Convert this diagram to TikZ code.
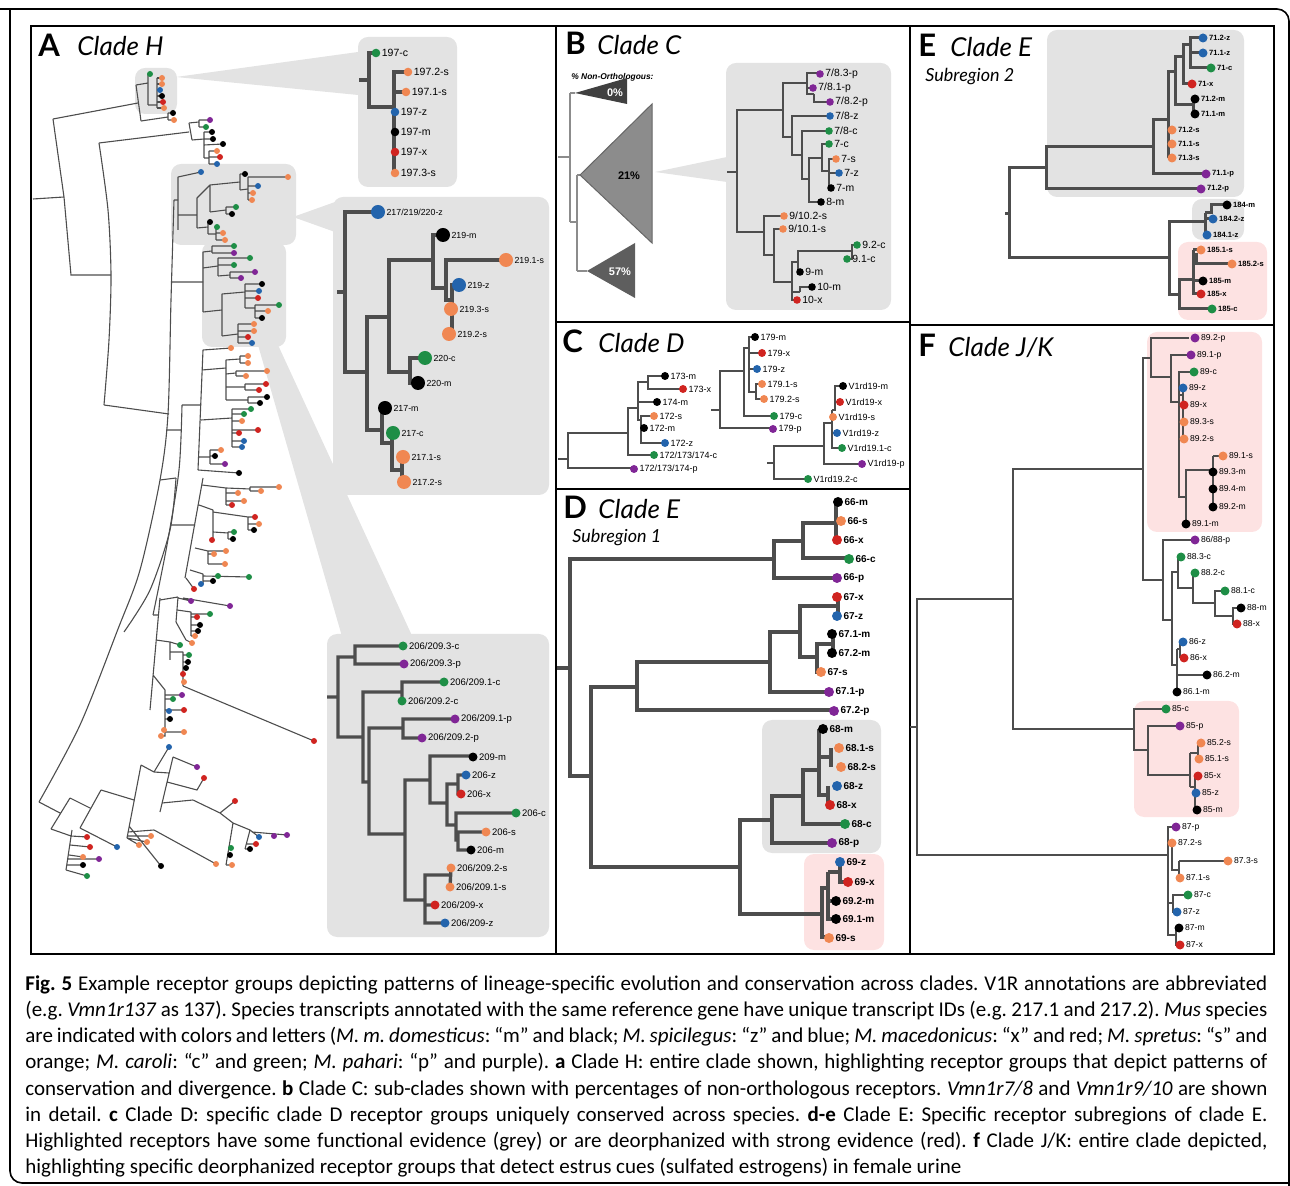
\documentclass[tikz,border=0pt]{standalone}
\usepackage{fontspec}
\setmainfont{Liberation Sans}
\newfontfamily\titlefont{Lato}
\newfontfamily\capfont{Carlito}
\definecolor{spm}{RGB}{0,0,0}
\definecolor{spz}{RGB}{35,100,172}
\definecolor{spx}{RGB}{208,36,32}
\definecolor{sps}{RGB}{240,135,82}
\definecolor{spc}{RGB}{30,142,70}
\definecolor{spp}{RGB}{128,38,150}
\definecolor{branch}{RGB}{77,77,77}
\definecolor{boxgrey}{RGB}{227,227,227}
\definecolor{boxpink}{RGB}{253,226,226}
\definecolor{tri0}{RGB}{64,64,64}
\definecolor{tri21}{RGB}{140,140,140}
\definecolor{tri57}{RGB}{94,94,94}
\newcount\tipno
\def\tr{3}
\def\leafdot[#1](#2)#3{\global\advance\tipno by 1\relax
  \fill[#1] (#2) circle (\tr) node[leaflab] (tip\the\tipno) {#3};}

\begin{document}
\begin{tikzpicture}[x=0.5pt, y=-0.5pt,
    br/.style={draw=branch, line width=#1}, br/.default=0.55pt,
    leaflab/.style={anchor=west, inner sep=0pt, text=black, xshift={(\tr+1.2)*0.5pt}},
    greybox/.style={fill=boxgrey, rounded corners=5pt},
    pinkbox/.style={fill=boxpink, rounded corners=5pt},
    panelttl/.style={anchor=base west, inner sep=0pt, font=\titlefont\bfseries\fontsize{15.5}{16}\selectfont},
    cladettl/.style={anchor=base west, inner sep=0pt, font=\titlefont\itshape\fontsize{13}{13}\selectfont},
    subttl/.style={anchor=base west, inner sep=0pt, font=\titlefont\itshape\fontsize{9}{9}\selectfont},
    trilab/.style={inner sep=0pt, font=\bfseries\fontsize{5.5}{6}\selectfont},
    capline/.style={anchor=base west, inner sep=0pt, font=\capfont\fontsize{10.5}{12}\selectfont\frenchspacing},
    panelframe/.style={draw=black, line width=1.2pt}]
\useasboundingbox (0,0) rectangle (1290,1186);

%%%%% FRAMES %%%%%
\draw[rounded corners=6pt, line width=0.8pt] (0,9) -- (1289,9) -- (1289,1190);
\draw[rounded corners=6pt, line width=0.8pt] (10,9) -- (10,1183) -- (1290,1183);

%%%%% BOXES AND WEDGES %%%%%
\fill[boxgrey] (176,77) -- (358,52) -- (358,95) -- cycle;
\fill[boxgrey] (293,217) -- (335,202) -- (335,232) -- cycle;
\fill[boxgrey] (258,345) -- (278,345) -- (414,640) -- (343,640) -- cycle;
\fill[boxgrey] (655,172) -- (727,157) -- (727,182) -- cycle;
\fill[greybox] (135,68) rectangle (177,114);
\fill[greybox] (171,164) rectangle (296,245);
\fill[greybox] (202,242) rectangle (286,347);
\fill[greybox] (358,37) rectangle (457,187);
\fill[greybox] (333,197) rectangle (549,495);
\fill[greybox] (327,634) rectangle (549,937);
\fill[greybox] (726,63) rectangle (891,310);
\fill[greybox] (762,720) rectangle (881,853);
\fill[pinkbox] (804,854) rectangle (884,950);
\fill[greybox] (1047,30) rectangle (1244,197);
\fill[greybox] (1192,199) rectangle (1244,240);
\fill[pinkbox] (1178,242) rectangle (1267,320);
\fill[pinkbox] (1147,332) rectangle (1262,532);
\fill[pinkbox] (1134,701) rectangle (1239,817);

\draw[panelframe] (31,26) rectangle (1274,954) (556,26) -- (556,954) (910,26) -- (910,954)
  (556,322) -- (910,322) (556,489) -- (910,489) (910,325) -- (1274,325);

%%%%% A: CLADE H %%%%%
\node[panelttl] (lblA) at (38,57) {A};
\node[cladettl] (ttlA) at (77,56) {Clade H};

% backbone
\draw[br] (33,199) -- (64,197) (53,119) -- (64,197) -- (71,275) -- (111,275) (53,119) -- (138,103)
  (104,405) -- (169,414) (166,430) -- (181,430) (174,200) -- (178,200) (172,282) -- (203,282)
  (182,405) -- (201,405) (171,525) -- (195,525) (153,615) -- (158,615) (160,480) -- (176,478);
\draw[br] plot[smooth] coordinates {(99,143) (108,210) (111,275) (109,340) (104,405)};
\draw[br] plot[smooth] coordinates {(174,200) (171,300) (168,414) (160,480) (140,570) (118,629) (80,725) (39,802)};
\draw[br] plot[smooth] coordinates {(182,405) (179,470) (167,545) (153,615)};
\draw[br] plot[smooth] coordinates {(176,478) (170,530) (150,590) (124,632)};
% top groups
\draw[br] (136,85) -- (141,121) (136,85) -- (148,83) (148,74) -- (148,105) (148,74) -- (150,74)
  (148,105) -- (157,105) (157,78) -- (157,108)
  (141,121) -- (168,117) (168,113) -- (168,120) (168,113) -- (173,113) (168,120) -- (174,120)
  (99,143) -- (189,132) (189,123) -- (192,140) (189,123) -- (199,122)
  (199,120) -- (199,127) (199,120) -- (210,120) (199,127) -- (206,127)
  (192,140) -- (204,139) (204,132) -- (204,158) (204,132) -- (212,132) (204,139) -- (213,139) (204,145) -- (223,144)
  (204,158) -- (209,158) (209,151) -- (209,164) (209,151) -- (217,151) (209,157) -- (220,157) (209,164) -- (217,164);
\foreach \y/\x in {78/162,84/162,90/160,96/162,102/163,108/164} \draw[br] (157,\y) -- (\x,\y);
% grey group 2
\draw[br] (178,177) -- (178,230) (178,177) -- (201,172) (178,215) -- (197,215) (197,198) -- (197,228)
  (197,198) -- (210,185) (210,185) -- (210,212) (210,185) -- (240,182) (240,174) -- (240,190) (240,174) -- (245,174)
  (240,190) -- (248,189) (248,177) -- (248,200) (248,177) -- (288,177) (248,186) -- (258,186) (248,193) -- (253,193) (248,200) -- (252,200)
  (210,212) -- (226,210) (226,207) -- (226,214) (226,207) -- (236,207) (226,214) -- (232,214)
  (197,228) -- (208,227) (208,222) -- (208,234) (208,222) -- (210,222) (208,234) -- (216,234)
  (216,227) -- (216,240) (216,233) -- (223,233) (216,240) -- (225,240);
% grey group 3
\draw[br] (203,252) -- (203,312) (203,252) -- (212,251) (212,246) -- (212,253) (212,246) -- (234,246) (212,253) -- (234,253)
  (203,268) -- (218,266) (218,258) -- (218,276) (218,258) -- (250,258) (218,265) -- (234,265)
  (218,276) -- (230,275) (230,272) -- (230,278) (230,272) -- (255,272) (230,278) -- (241,278)
  (203,312) -- (222,310) (222,294) -- (222,336) (222,294) -- (245,292) (245,284) -- (245,308)
  (245,284) -- (262,284) (245,291) -- (259,291) (245,298) -- (258,298)
  (245,308) -- (255,308) (255,305) -- (255,318) (255,305) -- (279,305) (255,311) -- (268,311) (255,318) -- (262,318)
  (222,336) -- (238,334) (238,324) -- (238,343) (238,324) -- (254,324) (238,331) -- (254,331) (238,337) -- (248,337) (238,343) -- (252,343);
% middle groups
\draw[br] (203,350) -- (198,470) (203,350) -- (231,348) (202,370) -- (226,368) (226,360) -- (226,400)
  (226,360) -- (240,359) (240,356) -- (240,363) (240,356) -- (248,356) (240,363) -- (248,363)
  (226,374) -- (236,373) (236,371) -- (236,376) (236,371) -- (267,371) (236,376) -- (246,376)
  (226,387) -- (245,387) (245,384) -- (245,390) (245,384) -- (266,384) (245,390) -- (259,390)
  (226,400) -- (248,400) (248,397) -- (248,403) (248,397) -- (267,397) (248,403) -- (260,403)
  (201,420) -- (232,418) (232,409) -- (232,447) (232,409) -- (251,409) (232,414) -- (244,414) (232,421) -- (242,421)
  (232,430) -- (258,430) (232,433) -- (239,433) (232,441) -- (244,441) (232,447) -- (242,447)
  (199,457) -- (210,457) (210,450) -- (210,464) (210,450) -- (221,450) (210,456) -- (215,456) (210,464) -- (225,464)
  (198,470) -- (239,473);
\draw[br] (203,478) -- (185,578) (202,485) -- (226,488) (226,488) -- (226,505)
  (226,488) -- (250,489) (250,487) -- (250,491) (250,487) -- (279,487) (250,491) -- (261,491)
  (226,493) -- (238,493) (226,501) -- (244,501) (226,505) -- (232,505)
  (199,505) -- (213,510) (213,510) -- (213,540) (213,512) -- (248,517) (248,517) -- (248,530)
  (248,517) -- (255,517) (248,524) -- (259,524) (248,530) -- (254,530)
  (213,532) -- (228,533) (228,532) -- (228,539) (228,532) -- (234,532) (228,539) -- (233,539)
  (195,548) -- (208,551) (208,551) -- (208,564) (208,551) -- (226,551) (208,554) -- (214,554) (208,564) -- (225,564)
  (190,570) -- (203,574) (203,574) -- (203,584) (203,576) -- (249,577) (203,581) -- (213,581) (186,578) -- (194,589);
\draw[br] (160,598) -- (150,710) (160,600) -- (178,597) (178,597) -- (176,622) (178,598) -- (191,601) (183,598) -- (230,606)
  (177,610) -- (191,612) (191,612) -- (191,636) (191,614) -- (210,614) (191,617) -- (197,617)
  (191,625) -- (200,625) (191,631) -- (198,631) (191,636) -- (195,636) (176,622) -- (186,640) -- (192,643)
  (156,640) -- (170,642) (170,642) -- (180,645) (170,642) -- (170,660) (170,652) -- (183,652) (183,652) -- (183,686)
  (183,655) -- (189,655) (183,662) -- (188,662) (183,668) -- (186,668) (183,682) -- (184,682) (183,686) -- (314,741)
  (153,675) -- (165,690) (165,690) -- (165,736) -- (161,736) (165,695) -- (182,695) (165,699) -- (173,699)
  (165,710) -- (184,710) (165,719) -- (170,719) (165,732) -- (184,732);
% bottom group
\draw[br] (39,802) -- (60,813) (51,829) -- (70,798) (51,829) -- (71,836) (72,830) -- (66,870)
  (71,836) -- (87,837) (70,845) -- (90,847) (69,855) -- (83,857) (68,859) -- (99,859) (67,865) -- (83,865) (66,870) -- (87,876)
  (70,798) -- (90,808) (101,790) -- (80,828) (80,828) -- (117,847) (101,790) -- (134,800) (141,765) -- (127,838)
  (127,836) -- (151,836) (127,838) -- (147,842) (127,838) -- (139,845) (129,826) -- (161,866) (128,832) -- (154,830) -- (216,864)
  (141,765) -- (154,772) (154,772) -- (169,747) (154,772) -- (169,773) (173,757) -- (160,812) (173,757) -- (197,767)
  (167,782) -- (197,790) -- (204,778) (162,803) -- (193,800) (193,800) -- (220,813) (220,813) -- (235,801) (220,813) -- (233,823)
  (233,823) -- (250,830) (250,830) -- (259,837) (252,832) -- (287,835) (250,830) -- (245,849) (246,844) -- (256,844) (245,849) -- (250,849)
  (233,823) -- (226,865) (229,848) -- (231,848) (228,855) -- (230,855) (226,865) -- (232,865);
\foreach \col/\x/\y in {spc/150/74, sps/162/78, sps/162/84, spz/160/90, spm/162/96, spx/163/102, sps/164/108, spm/173/113, sps/174/120,
  spp/210/120, spc/206/127, spm/212/132, spm/213/139, spm/223/144, sps/217/151, spx/220/157, spz/217/164,
  spz/201/172, spm/245/174, sps/288/177, spz/258/186, sps/253/193, sps/252/200, spc/236/207, spm/232/214, spm/210/222, spc/217/227, sps/223/233, sps/225/240,
  spc/234/246, spp/234/253, spc/250/258, spc/234/265, spp/255/272, spp/241/278, spm/262/284, spz/259/291, spx/258/298, spc/279/305, sps/268/311, spm/262/318,
  sps/254/324, sps/254/331, spx/248/337, spz/252/343,
  sps/231/348, sps/248/356, sps/248/363, sps/267/371, sps/246/376, spx/266/384, spx/259/390, spm/267/397, spm/260/403, spc/251/409, spc/244/414,
  sps/242/421, spx/258/430, spx/239/433, spz/244/441, spz/242/447, sps/221/450, spm/215/456, spp/225/464, spm/239/473,
  sps/279/487, sps/261/491, sps/238/493, sps/244/501, spx/232/505, spx/255/517, sps/259/524, spm/254/530, spc/234/532, spm/233/539, spx/212/540,
  sps/226/551, sps/214/554, sps/225/564, spc/249/577, spc/218/576, spm/213/581, spz/201/584, spx/194/589,
  spp/191/601, spp/230/606, spc/210/614, spx/197/617, spm/200/625, spm/198/631, sps/195/636, sps/192/643, spc/180/645, spc/189/655, spm/188/662,
  spm/186/668, spx/183/674, sps/184/682, spx/314/741, spp/182/695, spc/173/699, spx/184/710, spz/169/711, spm/170/719, sps/164/730, sps/161/736, sps/184/732,
  spz/169/747, spp/197/767, spx/204/778, spx/235/801, spz/259/837, spp/274/836, spp/287/835, spx/256/844, spm/250/849, spc/231/848, spm/230/855,
  sps/232/865, sps/216/864, sps/151/836, sps/147/842, sps/139/845, spm/161/866, spz/117/847, spx/87/837, spx/90/847, sps/83/857, spp/99/859,
  spm/83/865, spc/87/876}
  \fill[\col] (\x,\y) circle (3);

% inset 197
\draw[br=2pt] (359,80) -- (369,80) (376,53) -| (369,107) -| (394,72) -- (408,72) (394,107) -- (394,173) (394,92) -- (406,92);
\begin{scope}[leaflab/.append style={font=\fontsize{5.25}{6}\selectfont}]
\def\tr{4.3}
\leafdot[spc](376,53){197-c}
\leafdot[sps](408,72){197.2-s}
\leafdot[sps](406,92){197.1-s}
\leafdot[spz](395,112){197-z}
\leafdot[spm](395,132){197-m}
\leafdot[spx](395,152){197-x}
\leafdot[sps](395,173){197.3-s}
\end{scope}

% inset 217/219/220
\draw[br=2.2pt] (337,292) -- (345,292) (378,212) -| (345,372) -- (367,372) (389,317) -| (367,430) -- (382,430)
  (433,260) -| (389,372) -- (410,372) (443,235) -| (433,288) -- (446,288) (506,260) -| (446,300) -- (452,300)
  (459,285) -| (452,334) -- (449,334) (425,358) -| (410,383) -- (418,383) (385,408) -| (382,443) -- (392,443)
  (393,433) -| (392,470) -- (402,470) (403,457) -| (402,482) -- (404,482);
\begin{scope}[leaflab/.append style={font=\fontsize{4.4}{5}\selectfont}]
\def\tr{7}
\leafdot[spz](378,212){217/219/220-z}
\leafdot[spm](443,235){219-m}
\leafdot[sps](506,260){219.1-s}
\leafdot[spz](459,285){219-z}
\leafdot[sps](451,309){219.3-s}
\leafdot[sps](449,334){219.2-s}
\leafdot[spc](425,358){220-c}
\leafdot[spm](418,383){220-m}
\leafdot[spm](385,408){217-m}
\leafdot[spc](393,433){217-c}
\leafdot[sps](403,457){217.1-s}
\leafdot[sps](404,482){217.2-s}
\end{scope}

% inset 206/209
\draw[br=1.7pt] (327,697) -- (338,697) (355,657) -| (338,737) -- (363,737) (403,646) -| (355,664) -- (404,664)
  (402,692) -| (363,782) -- (369,782) (444,682) -| (402,701) (403,728) -| (369,834) -- (405,834)
  (455,719) -| (403,738) -- (422,738) (430,780) -| (405,900) -- (425,900) (473,756) -| (430,803) -- (447,803)
  (458,784) -| (447,825) -- (456,825) (466,775) -| (458,794) -- (461,794) (516,813) -| (456,840) -- (458,840)
  (486,832) -| (458,850) -- (471,850) (450,875) -| (425,923) -- (445,923) (425,905) -- (435,905) (451,868) -- (450,887);
\begin{scope}[leaflab/.append style={font=\fontsize{4.75}{5}\selectfont}]
\def\tr{4.5}
\leafdot[spc](403,646){206/209.3-c}
\leafdot[spp](404,664){206/209.3-p}
\leafdot[spc](444,682){206/209.1-c}
\leafdot[spc](402,701){206/209.2-c}
\leafdot[spp](455,719){206/209.1-p}
\leafdot[spp](422,738){206/209.2-p}
\leafdot[spm](473,757){209-m}
\leafdot[spz](466,775){206-z}
\leafdot[spx](461,794){206-x}
\leafdot[spc](516,813){206-c}
\leafdot[sps](486,832){206-s}
\leafdot[spm](471,850){206-m}
\leafdot[sps](451,868){206/209.2-s}
\leafdot[sps](450,887){206/209.1-s}
\leafdot[spx](435,905){206/209-x}
\leafdot[spz](445,923){206/209-z}
\end{scope}

%%%%% B: CLADE C %%%%%
\node[panelttl] (lblB) at (565,55) {B};
\node[cladettl] (ttlB) at (597,55) {Clade C};
\node[anchor=base west, inner sep=0pt, font=\bfseries\itshape\fontsize{4.2}{5}\selectfont] (nonorth) at (571,80) {\% Non-Orthologous:};
\draw[br=0.6pt, draw=black!45] (558,157) -- (570,157) (570,93) -- (570,222) (570,93) -- (575,93) (570,222) -- (577,222)
  (577,175) -- (577,271) (577,175) -- (580,175) (577,271) -- (587,271);
\fill[tri0] (575,93) -- (627,78) -- (627,104) -- cycle;
\filldraw[fill=tri21, draw=black!60, line width=0.5pt] (580,175) -- (652,104) -- (652,243) -- cycle;
\fill[tri57] (587,271) -- (635,243) -- (635,298) -- cycle;
\node[trilab, text=white] (pct0) at (615,93) {0\%};
\node[trilab] (pct21) at (629,176) {21\%};
\node[trilab, text=white] (pct57) at (620,272) {57\%};
\draw[br=1.4pt] (727,172) -- (737,172) (783,110) -| (737,232) -- (764,232) (807,83) -| (783,137) -- (792,137)
  (820,73) -| (807,94) -- (814,94) (807,88) -- (813,88) (814,94) -- (814,102) -- (830,102)
  (830,116) -| (792,155) -- (802,155) (829,131) -| (802,179) -- (809,179) (822,158) -| (809,202) -- (821,202)
  (829,144) -| (822,171) -- (829,171) (836,159) -| (829,188) -- (831,188) (829,173) -- (839,173)
  (784,216) -| (764,255) -- (774,255) (783,229) -| (774,282) -- (792,282) (798,262) -| (792,300) -- (797,300)
  (852,251) -| (798,272) -- (800,272) (857,245) -| (852,259) -- (847,259) (792,292) -- (800,292) (812,287) -| (800,292);
\begin{scope}[leaflab/.append style={font=\fontsize{5.2}{6}\selectfont}]
\def\tr{3.8}
\leafdot[spp](820,74){7/8.3-p}
\leafdot[spp](813,88){7/8.1-p}
\leafdot[spp](830,102){7/8.2-p}
\leafdot[spz](830,116){7/8-z}
\leafdot[spc](829,131){7/8-c}
\leafdot[spc](829,144){7-c}
\leafdot[sps](836,159){7-s}
\leafdot[spz](839,173){7-z}
\leafdot[spm](831,188){7-m}
\leafdot[spm](821,202){8-m}
\leafdot[sps](784,216){9/10.2-s}
\leafdot[sps](783,229){9/10.1-s}
\leafdot[spc](857,245){9.2-c}
\leafdot[spc](847,259){9.1-c}
\leafdot[spm](800,272){9-m}
\leafdot[spm](812,287){10-m}
\leafdot[spx](797,300){10-x}
\end{scope}

%%%%% C: CLADE D %%%%%
\node[panelttl] (lblC) at (562,353) {C};
\node[cladettl] (ttlC) at (598,353) {Clade D};
\draw[br=1pt] (558,459) -- (568,459) (628,433) -| (568,468) -- (634,468) (638,408) -| (628,455) -- (654,455)
  (648,382) -| (638,420) -- (641,420) (665,376) -| (648,389) -- (683,389) (638,402) -- (657,402)
  (654,416) -| (641,443) -- (665,443) (641,428) -- (644,428)
  (711,410) -- (720,410) (744,371) -| (720,428) -- (773,428) (749,348) -| (744,416) -- (774,416)
  (755,337) -| (749,392) -- (756,392) (749,353) -- (762,353) (749,369) -- (757,369) (762,384) -| (756,399) -- (764,399)
  (767,463) -- (774,463) (824,446) -| (774,479) -- (808,479) (832,423) -| (824,464) -- (862,464)
  (832,410) -- (832,448) -- (842,448) (832,433) -- (837,433) (843,386) -| (835,410) -- (832,410) (835,402) -- (840,402);
\begin{scope}[leaflab/.append style={font=\fontsize{4.5}{5}\selectfont}]
\def\tr{4}
\leafdot[spm](665,376){173-m}
\leafdot[spx](683,389){173-x}
\leafdot[spm](657,402){174-m}
\leafdot[sps](654,416){172-s}
\leafdot[spm](644,428){172-m}
\leafdot[spz](665,443){172-z}
\leafdot[spc](654,455){172/173/174-c}
\leafdot[spp](634,469){172/173/174-p}
\leafdot[spm](755,337){179-m}
\leafdot[spx](762,353){179-x}
\leafdot[spz](757,369){179-z}
\leafdot[sps](762,384){179.1-s}
\leafdot[sps](764,399){179.2-s}
\leafdot[spc](774,416){179-c}
\leafdot[spp](773,429){179-p}
\leafdot[spm](843,386){V1rd19-m}
\leafdot[spx](840,402){V1rd19-x}
\leafdot[sps](833,417){V1rd19-s}
\leafdot[spz](837,433){V1rd19-z}
\leafdot[spc](842,448){V1rd19.1-c}
\leafdot[spp](862,464){V1rd19-p}
\leafdot[spc](808,479){V1rd19.2-c}
\end{scope}

%%%%% D: CLADE E, SUBREGION 1 %%%%%
\node[panelttl] (lblD) at (563,519) {D};
\node[cladettl] (ttlD) at (598,519) {Clade E};
\node[subttl] (subD) at (572,543) {Subregion 1};
\draw[br=1.6pt] (557,668) -- (570,668) (774,559) -| (570,776) -- (591,776) (803,541) -| (774,578) -- (837,578)
  (836,523) -| (803,558) -- (849,558) (836,505) -- (836,540) (836,521) -- (841,521)
  (637,687) -| (591,867) -- (740,867) (770,662) -| (637,710) -- (834,710) (800,632) -| (770,692) -- (829,692)
  (838,606) -| (800,657) -- (817,657) (838,597) -- (838,616) (833,644) -| (817,672) -- (821,672) (833,634) -- (833,653)
  (772,820) -| (740,914) -- (822,914) (803,796) -| (772,843) -- (832,843) (819,770) -| (803,824) -- (845,824)
  (819,729) -- (819,795) -- (828,795) (819,757) -- (831,757) (831,748) -- (831,767) (828,786) -- (828,805)
  (828,888) -| (822,937) -- (829,937) (828,872) -- (828,919) -- (836,919) (828,901) -- (836,901)
  (828,872) -- (840,872) (840,862) -- (840,882) -- (848,882);
\begin{scope}[leaflab/.append style={font=\bfseries\fontsize{5}{6}\selectfont}]
\def\tr{5}
\leafdot[spm](838,502){66-m}
\leafdot[sps](841,521){66-s}
\leafdot[spx](837,540){66-x}
\leafdot[spc](849,559){66-c}
\leafdot[spp](837,578){66-p}
\leafdot[spx](837,597){67-x}
\leafdot[spz](837,616){67-z}
\leafdot[spm](832,634){67.1-m}
\leafdot[spm](832,653){67.2-m}
\leafdot[sps](821,672){67-s}
\leafdot[spp](829,692){67.1-p}
\leafdot[spp](834,711){67.2-p}
\leafdot[spm](823,729){68-m}
\leafdot[sps](839,748){68.1-s}
\leafdot[sps](841,767){68.2-s}
\leafdot[spz](837,786){68-z}
\leafdot[spx](830,805){68-x}
\leafdot[spc](845,824){68-c}
\leafdot[spp](832,843){68-p}
\leafdot[spz](840,862){69-z}
\leafdot[spx](848,882){69-x}
\leafdot[spm](836,901){69.2-m}
\leafdot[spm](836,919){69.1-m}
\leafdot[sps](829,938){69-s}
\end{scope}

%%%%% E: CLADE E, SUBREGION 2 %%%%%
\node[panelttl] (lblE) at (918,57) {E};
\node[cladettl] (ttlE) at (950,57) {Clade E};
\node[subttl] (subE) at (925,82) {Subregion 2};
\draw[br=1.5pt] (1005,214) -- (1009,214) (1046,168) -| (1009,258) -- (1169,258) (1153,147) -| (1046,189) -- (1201,189)
  (1168,120) -| (1153,174) -- (1206,174) (1175,72) -| (1168,158) (1168,130) -- (1172,130) (1168,144) -- (1172,144)
  (1183,57) -| (1175,105) -- (1193,105) (1193,99) -- (1193,114) (1190,45) -| (1183,84) -- (1192,84)
  (1203,38) -| (1190,68) -- (1211,68) (1190,53) -- (1203,53)
  (1205,222) -| (1169,295) -- (1179,295) (1205,213) -- (1205,235) -- (1207,235) (1205,219) -- (1213,219)
  (1205,213) -- (1211,213) -- (1211,205) -- (1227,205)
  (1193,280) -| (1179,309) -- (1212,309) (1193,250) -- (1193,294) -- (1201,294) (1193,281) -- (1203,281)
  (1193,250) -- (1201,250) (1193,255) -- (1196,255) -- (1196,264) -- (1232,264);
\begin{scope}[leaflab/.append style={font=\bfseries\fontsize{3.8}{4}\selectfont}]
\def\tr{4.5}
\leafdot[spz](1203,38){71.2-z}
\leafdot[spz](1203,53){71.1-z}
\leafdot[spc](1211,68){71-c}
\leafdot[spx](1192,84){71-x}
\leafdot[spm](1195,99){71.2-m}
\leafdot[spm](1195,114){71.1-m}
\leafdot[sps](1172,130){71.2-s}
\leafdot[sps](1172,144){71.1-s}
\leafdot[sps](1172,158){71.3-s}
\leafdot[spp](1206,174){71.1-p}
\leafdot[spp](1201,189){71.2-p}
\leafdot[spm](1227,205){184-m}
\leafdot[spz](1213,219){184.2-z}
\leafdot[spz](1207,235){184.1-z}
\leafdot[sps](1201,250){185.1-s}
\leafdot[sps](1232,264){185.2-s}
\leafdot[spm](1203,281){185-m}
\leafdot[spx](1201,294){185-x}
\leafdot[spc](1212,309){185-c}
\end{scope}

%%%%% F: CLADE J/K %%%%%
\node[panelttl] (lblF) at (918,357) {F};
\node[cladettl] (ttlF) at (948,357) {Clade J/K};
\draw[br=1.1pt] (910,727) -- (917,727) (1013,599) -| (917,855) -- (1167,855) (1143,469) -| (1013,729) -- (1134,729)
  (1151,358) -| (1143,580) -- (1163,580) (1189,338) -| (1151,377) -- (1171,377) (1191,355) -| (1171,402) -- (1179,402)
  (1194,372) -| (1179,497) -- (1186,497) (1179,395) -- (1183,395) (1183,388) -- (1183,439)
  (1213,470) -| (1186,524) (1213,456) -- (1213,507) (1213,456) -- (1223,456)
  (1195,540) -| (1163,620) -- (1172,620) (1178,572) -| (1172,665) -- (1177,665) (1181,557) -| (1178,588) -- (1193,588)
  (1195,573) -| (1193,603) -- (1215,603) (1225,591) -| (1215,616) -- (1233,616) (1241,608) -| (1233,624) -- (1237,624)
  (1177,649) -- (1180,649) (1180,642) -- (1180,658) (1177,649) -- (1177,692) (1177,675) -- (1207,675)
  (1166,709) -| (1134,750) -- (1148,750) (1180,726) -| (1148,775) -- (1190,775) (1190,753) -- (1190,787)
  (1190,753) -- (1198,753) (1198,743) -- (1198,759) (1190,787) -- (1195,787) (1195,776) -- (1195,810)
  (1176,827) -| (1168,935) -- (1176,935) (1168,845) -- (1172,845) (1172,843) -- (1172,870) -- (1179,870)
  (1179,861) -- (1179,878) (1179,861) -- (1228,861) (1188,895) -| (1173,912) -- (1177,912) (1168,903) -- (1173,903)
  (1176,928) -- (1176,945) -- (1180,945);
\begin{scope}[leaflab/.append style={font=\fontsize{4.3}{5}\selectfont}]
\def\tr{4.5}
\leafdot[spp](1195,338){89.2-p}
\leafdot[spp](1191,355){89.1-p}
\leafdot[spc](1194,372){89-c}
\leafdot[spz](1183,388){89-z}
\leafdot[spx](1184,405){89-x}
\leafdot[sps](1184,422){89.3-s}
\leafdot[sps](1184,439){89.2-s}
\leafdot[sps](1223,456){89.1-s}
\leafdot[spm](1213,472){89.3-m}
\leafdot[spm](1213,489){89.4-m}
\leafdot[spm](1213,507){89.2-m}
\leafdot[spm](1186,524){89.1-m}
\leafdot[spp](1195,540){86/88-p}
\leafdot[spc](1181,557){88.3-c}
\leafdot[spc](1195,573){88.2-c}
\leafdot[spc](1225,591){88.1-c}
\leafdot[spm](1241,608){88-m}
\leafdot[spx](1237,624){88-x}
\leafdot[spz](1183,642){86-z}
\leafdot[spx](1184,658){86-x}
\leafdot[spm](1207,675){86.2-m}
\leafdot[spm](1177,692){86.1-m}
\leafdot[spc](1166,709){85-c}
\leafdot[spp](1180,726){85-p}
\leafdot[sps](1201,743){85.2-s}
\leafdot[sps](1199,759){85.1-s}
\leafdot[spx](1198,776){85-x}
\leafdot[spz](1196,793){85-z}
\leafdot[spm](1197,810){85-m}
\leafdot[spp](1176,827){87-p}
\leafdot[sps](1172,843){87.2-s}
\leafdot[sps](1228,861){87.3-s}
\leafdot[sps](1180,878){87.1-s}
\leafdot[spc](1188,895){87-c}
\leafdot[spz](1177,912){87-z}
\leafdot[spm](1179,928){87-m}
\leafdot[spx](1180,945){87-x}
\end{scope}

%%%%% CAPTION %%%%%
\node[capline] (cap1) at (25,990) {\hbox to 621pt{\textbf{Fig. 5} Example receptor groups depicting patterns of lineage-specific evolution and conservation across clades. V1R annotations are abbreviated}};
\node[capline] (cap2) at (25,1016) {\hbox to 621pt{(e.g. \textit{Vmn1r137} as 137). Species transcripts annotated with the same reference gene have unique transcript IDs (e.g. 217.1 and 217.2). \textit{Mus} species}};
\node[capline] (cap3) at (25,1042) {\hbox to 621pt{are indicated with colors and letters (\textit{M. m. domesticus}: “m” and black; \textit{M. spicilegus}: “z” and blue; \textit{M. macedonicus}: “x” and red; \textit{M. spretus}: “s” and}};
\node[capline] (cap4) at (25,1068) {\hbox to 621pt{orange; \textit{M. caroli}: “c” and green; \textit{M. pahari}: “p” and purple). \textbf{a} Clade H: entire clade shown, highlighting receptor groups that depict patterns of}};
\node[capline] (cap5) at (25,1095) {\hbox to 621pt{conservation and divergence. \textbf{b} Clade C: sub-clades shown with percentages of non-orthologous receptors. \textit{Vmn1r7/8} and \textit{Vmn1r9/10} are shown}};
\node[capline] (cap6) at (25,1121) {\hbox to 621pt{in detail. \textbf{c} Clade D: specific clade D receptor groups uniquely conserved across species. \textbf{d-e} Clade E: Specific receptor subregions of clade E.}};
\node[capline] (cap7) at (25,1147) {\hbox to 621pt{Highlighted receptors have some functional evidence (grey) or are deorphanized with strong evidence (red). \textbf{f} Clade J/K: entire clade depicted,}};
\node[capline] (cap8) at (25,1173) {highlighting specific deorphanized receptor groups that detect estrus cues (sulfated estrogens) in female urine};
\end{tikzpicture}
\end{document}
